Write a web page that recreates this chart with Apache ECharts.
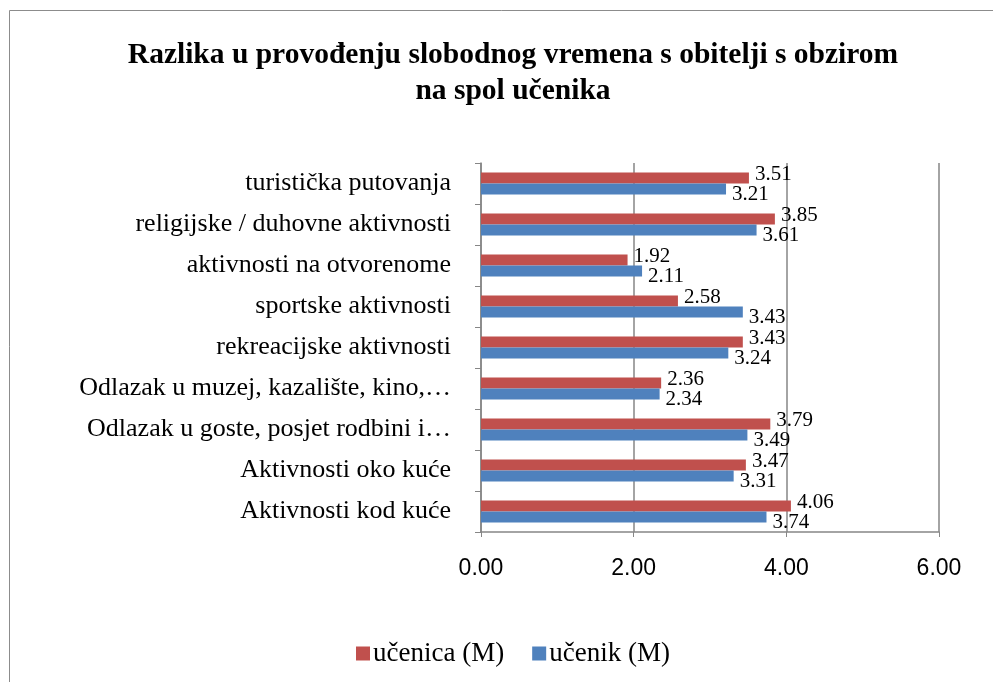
<!DOCTYPE html>
<html>
<head>
<meta charset="utf-8">
<script src="https://cdn.jsdelivr.net/npm/echarts@6/dist/echarts.min.js"></script>
<style>
  html, body { margin: 0; padding: 0; background: #fff; }
  #chart { width: 993px; height: 682px; }
</style>
</head>
<body>
<div id="chart"></div>
<script>
  // kategorije odozdo prema gore (kao na osi)
  var categories = [
    'Aktivnosti kod kuće',
    'Aktivnosti oko kuće',
    'Odlazak u goste, posjet rodbini i…',
    'Odlazak u muzej, kazalište, kino,…',
    'rekreacijske aktivnosti',
    'sportske aktivnosti',
    'aktivnosti na otvorenome',
    'religijske / duhovne aktivnosti',
    'turistička putovanja'
  ];
  var ucenica = [4.06, 3.47, 3.79, 2.36, 3.43, 2.58, 1.92, 3.85, 3.51];
  var ucenik = [3.74, 3.31, 3.49, 2.34, 3.24, 3.43, 2.11, 3.61, 3.21];
  var xTicks = [0, 2, 4, 6];

  var serif = '"Liberation Serif", "Times New Roman", serif';
  var axisGray = '#868686';

  var chart = echarts.init(document.getElementById('chart'));
  chart.setOption({
    animation: false,
    backgroundColor: '#fff',
    graphic: [{
      type: 'rect',
      shape: { x: 9.5, y: 10.5, width: 1100, height: 900 },
      style: { fill: 'none', stroke: '#8c8c8c', lineWidth: 1 }
    }],
    title: {
      text: 'Razlika u provođenju slobodnog vremena s obitelji s obzirom\nna spol učenika',
      left: 508,
      textAlign: 'center',
      top: 32,
      textStyle: {
        fontFamily: serif,
        fontWeight: 'bold',
        fontSize: 29.5,
        lineHeight: 36,
        color: '#000'
      }
    },
    legend: {
      data: ['učenica (M)', 'učenik (M)'],
      left: 351,
      top: 635,
      itemWidth: 14,
      itemHeight: 14,
      itemGap: 28,
      icon: 'rect',
      textStyle: { fontFamily: serif, fontSize: 27, color: '#000', padding: [0, 0, 0, -2] }
    },
    grid: { left: 481, right: 54, top: 163, bottom: 150, containLabel: false },
    xAxis: {
      type: 'value',
      min: xTicks[0],
      max: xTicks[xTicks.length - 1],
      interval: 2,
      axisLine: { show: true, lineStyle: { color: axisGray, width: 1.5 } },
      axisTick: { show: true, length: 5, lineStyle: { color: axisGray } },
      splitLine: { show: true, lineStyle: { color: axisGray, width: 1.5 } },
      axisLabel: {
        margin: 25,
        fontFamily: '"Liberation Sans", Arial, sans-serif',
        fontSize: 23,
        color: '#000',
        formatter: function (v) { return v.toFixed(2); }
      }
    },
    yAxis: {
      type: 'category',
      data: categories,
      axisLine: { show: true, lineStyle: { color: axisGray, width: 1.5 } },
      axisTick: { show: true, length: 6, lineStyle: { color: axisGray } },
      axisLabel: {
        margin: 30,
        fontFamily: serif,
        fontSize: 26,
        color: '#000'
      }
    },
    series: [{
      name: 'učenica (M)',
      type: 'bar',
      data: ucenica,
      barWidth: 11,
      barGap: '0%',
      itemStyle: { color: '#C0504D' },
      label: {
        show: true,
        position: 'right',
        distance: 6,
        offset: [0, -4],
        fontFamily: serif,
        fontSize: 21,
        color: '#000',
        formatter: function (p) { return p.value.toFixed(2); }
      }
    }, {
      name: 'učenik (M)',
      type: 'bar',
      data: ucenik,
      barWidth: 11,
      barGap: '0%',
      itemStyle: { color: '#4F81BD' },
      label: {
        show: true,
        position: 'right',
        distance: 6,
        offset: [0, 5],
        fontFamily: serif,
        fontSize: 21,
        color: '#000',
        formatter: function (p) { return p.value.toFixed(2); }
      }
    }]
  });
</script>
</body>
</html>
